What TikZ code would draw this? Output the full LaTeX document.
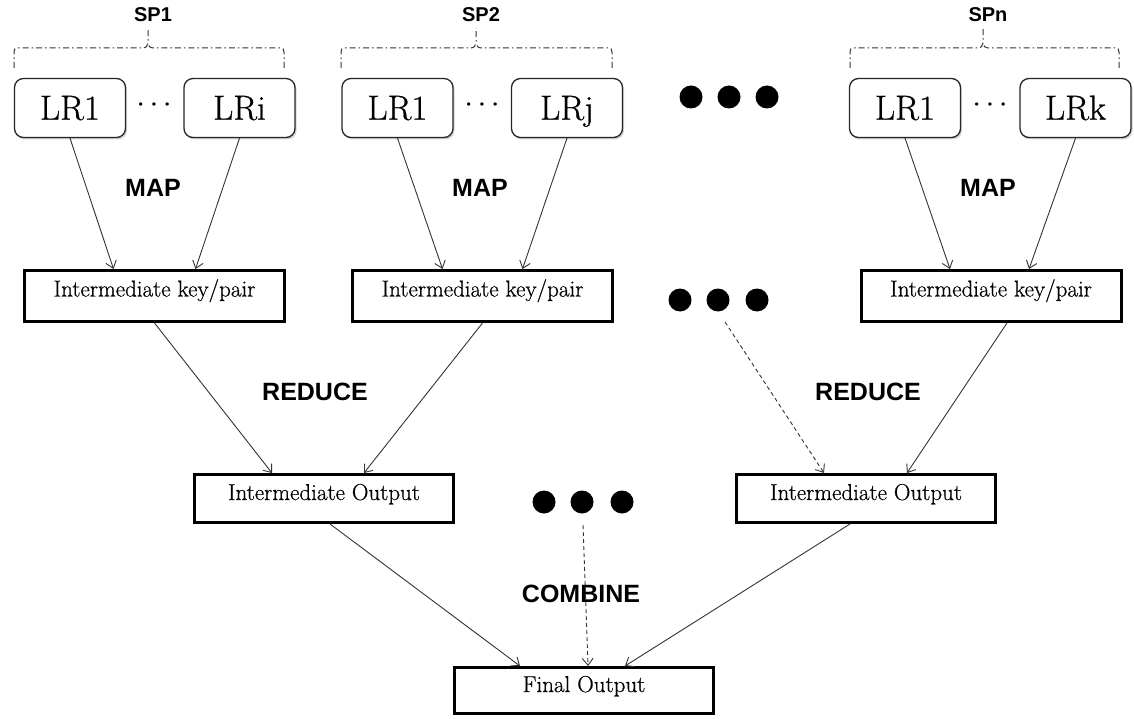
\documentclass[tikz,border=0pt]{standalone}
\usepackage{fontspec}
\newfontfamily\lsans{Liberation Sans}
\newfontfamily\lmheavy{Latin Modern Roman}[FakeBold=0.6]
\usetikzlibrary{arrows.meta,shadows,calc}
\begin{document}
\begin{tikzpicture}[x=1pt,y=-1pt,
  lrbox/.style={draw=black!85, line width=1.3pt, rounded corners=9pt, fill=white,
    minimum width=111pt, minimum height=59pt, inner sep=0pt, text height=23.5pt, text depth=0pt,
    font=\lmheavy\fontsize{35}{40}\selectfont,
    drop shadow={shadow xshift=1.5pt, shadow yshift=-2pt, opacity=0.35}},
  kpbox/.style={draw, line width=3pt, fill=white, inner sep=0pt, minimum width=260pt,
    font=\lmheavy\fontsize{23}{27}\selectfont, text height=26pt, text depth=25pt},
  iobox/.style={draw, line width=3pt, fill=white, inner sep=0pt, minimum width=259pt,
    font=\lmheavy\fontsize{23}{27}\selectfont, text height=25.5pt, text depth=22.5pt},
  fobox/.style={draw, line width=3pt, fill=white, inner sep=0pt, minimum width=259pt,
    font=\lmheavy\fontsize{23}{27}\selectfont, text height=24.5pt, text depth=21.5pt},
  lbl/.style={font=\lsans\bfseries\fontsize{25}{30}\selectfont, inner sep=0pt},
  splbl/.style={font=\lsans\bfseries\fontsize{20}{24}\selectfont, inner sep=0pt},
  sdots/.style={font=\fontsize{15}{18}\selectfont, inner sep=0pt},
  bigdot/.style={circle, fill=black, minimum size=23pt, inner sep=0pt},
  conn/.style={draw=black!80, line width=0.9pt, -{Straight Barb[length=7pt,width=11pt]}},
  dconn/.style={conn, dash pattern=on 4pt off 3pt},
  brace/.style={draw=black!80, line width=1pt, dash pattern=on 6pt off 3pt on 1.5pt off 3pt}
]
\useasboundingbox (0,0) rectangle (1134,719);

% braces and SP labels
\foreach \L/\R/\C/\t in {14/284/148/SP1, 341/612/476/SP2, 850/1119/983/SPn}{
  \draw[brace] (\L,68) -- (\L,52) .. controls (\L,49) and (\L+1,48) .. (\L+4,48) -- (\C-6,48)
     .. controls (\C-2,48) and (\C,46) .. (\C,43) -- (\C,28);
  \draw[brace] (\R,68) -- (\R,52) .. controls (\R,49) and (\R-1,48) .. (\R-4,48) -- (\C+6,48)
     .. controls (\C+2,48) and (\C,46) .. (\C,43);
  \node[splbl] (lbl\t) at (\C+5,15) {\t};
}

% LR boxes
\node[lrbox] (lr11) at (70,108) {LR1};
\node[lrbox] (lr1i) at (239.5,108) {LRi};
\node[lrbox] (lr21) at (397.5,108) {LR1};
\node[lrbox] (lr2j) at (567,108) {LRj};
\node[lrbox] (lr31) at (905,108) {LR1};
\node[lrbox] (lr3k) at (1075.5,108) {LRk};

\node[sdots] (sd1) at (154,106) {\textbullet\hspace{2.5pt}\textbullet\hspace{2.5pt}\textbullet};
\node[sdots] (sd2) at (482,106) {\textbullet\hspace{2.5pt}\textbullet\hspace{2.5pt}\textbullet};
\node[sdots] (sd3) at (990,106) {\textbullet\hspace{2.5pt}\textbullet\hspace{2.5pt}\textbullet};

% big dots
\node[bigdot] (td1) at (691,97) {};
\node[bigdot] (td2) at (729,97) {};
\node[bigdot] (td3) at (767,97) {};
\node[bigdot] (md1) at (680,300) {};
\node[bigdot] (md2) at (718,300) {};
\node[bigdot] (md3) at (757,300) {};
\node[bigdot] (bd1) at (544,502) {};
\node[bigdot] (bd2) at (582,502) {};
\node[bigdot] (bd3) at (622,502) {};

% intermediate key/pair
\node[kpbox] (kp1) at (154.5,296) {Intermediate key/pair};
\node[kpbox] (kp2) at (482.5,296) {Intermediate key/pair};
\node[kpbox] (kp3) at (991,296) {Intermediate key/pair};

% intermediate output
\node[iobox] (io1) at (324,498.5) {Intermediate Output};
\node[iobox] (io2) at (866,498.5) {Intermediate Output};

% final output
\node[fobox] (fo) at (584,690.5) {Final Output};

% labels
\node[lbl] (map1) at (153,188) {MAP};
\node[lbl] (map2) at (480,188) {MAP};
\node[lbl] (map3) at (988,188) {MAP};
\node[lbl] (red1) at (315,392) {REDUCE};
\node[lbl] (red2) at (868,392) {REDUCE};
\node[lbl] (comb) at (581,594) {COMBINE};

% map arrows
\draw[conn] (lr11.south) -- ([xshift=-41pt]kp1.north);
\draw[conn] (lr1i.south) -- ([xshift=41pt]kp1.north);
\draw[conn] (lr21.south) -- ([xshift=-40pt]kp2.north);
\draw[conn] (lr2j.south) -- ([xshift=40pt]kp2.north);
\draw[conn] (lr31.south) -- ([xshift=-41pt]kp3.north);
\draw[conn] (lr3k.south) -- ([xshift=38pt]kp3.north);

% reduce arrows
\draw[conn] (kp1.south) -- ([xshift=-52pt]io1.north);
\draw[conn] (kp2.south) -- ([xshift=40pt]io1.north);
\draw[conn] ([xshift=16pt]kp3.south) -- ([xshift=41pt]io2.north);
\coordinate (mds) at ($(md2)+(7,22)$);
\draw[dconn] (mds) -- ([xshift=-42pt]io2.north);

% combine arrows
\draw[conn] ([xshift=6pt]io1.south) -- ([xshift=-64pt]fo.north);
\draw[conn] ([xshift=-16pt]io2.south) -- ([xshift=41pt]fo.north);
\coordinate (bds) at ($(bd2)+(1,23)$);
\draw[dconn] (bds) -- ([xshift=4pt]fo.north);
\end{tikzpicture}
\end{document}
